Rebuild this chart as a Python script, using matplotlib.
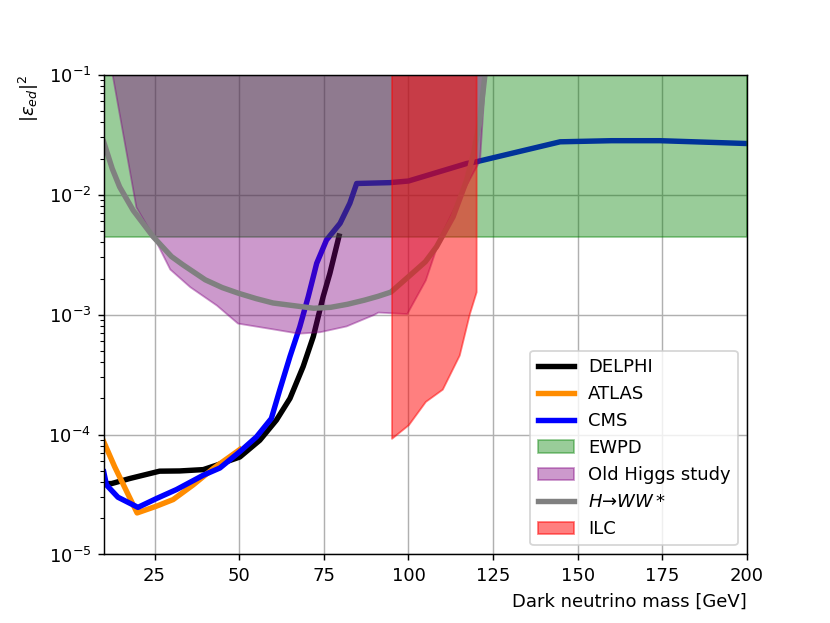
import matplotlib.pyplot as plt
import numpy as np

# DELPHI limit
delphi_m = [10, 12.3, 17.7, 26.5, 32.4, 39.4, 43.3, 50.2, 56.1, 61, 65, 68.9, 71.9, 74.8, 76.8, 79.5]
delphi_eps = [3.9e-5, 3.9e-5, 4.3e-5, 4.95e-5, 4.97e-5, 5.1e-5, 5.55e-5, 6.5e-5, 8.97e-5, 1.32e-4,
              2.0e-4, 3.69e-4, 6.56e-4, 1.41e-3, 2.21e-3, 4.52e-3]

# ATLAS limit
atlas_m = [10, 13.25, 19.85, 25.6, 30.5, 36.4, 42.3, 50.2]
atlas_eps = [8.7e-5, 5.37e-5, 2.22e-5, 2.53e-5, 2.87e-5, 3.8e-5, 5.2e-5, 7.5e-5]

# CMS limit
cms_m = [10, 10.8, 14.2, 20.1, 25.6, 31.5, 39.4, 44.3, 50.2, 55.1, 59.5, 62, 65, 67.9, 70.4, 71.9, 72.9,
         75.8, 79.8, 82.7, 84.7, 94.5, 100, 117.2, 120, 144.8, 160, 174.3, 200]
cms_eps = [4.88e-5, 3.8e-5, 3.0e-5, 2.47e-5, 2.93e-5, 3.48e-5, 4.58e-5, 5.26e-5, 7.2e-5, 9.55e-5, 1.36e-4,
           2.36e-4, 4.47e-4, 7.9e-4, 1.41e-3, 2.07e-3, 2.68e-3, 4.19e-3, 5.77e-3, 8.5e-3, 1.24e-2, 1.26e-2,
           1.3e-2, 1.82e-2, 1.88e-2, 2.76e-2, 2.82e-2, 2.82e-2, 2.67e-2]

# EWPD bound
ewpd_m = [10, 200]
ewpd_eps = [4.45e-3, 4.45e-3]

# old Higgs study
old_m = [12, 19.5, 25, 29.5, 35.4, 43.3, 49.5, 60, 67.5, 73.8, 81.6, 89.6, 91, 99.5, 105, 109.3, 115, 121, 122.6]
old_eps = [0.12, 7.9e-3, 4.3e-3, 2.4e-3, 1.71e-3, 1.2e-3, 8.5e-4, 7.6e-4, 7.0e-4, 7.2e-4, 8.05e-4, 1.0e-3,
           1.05e-3, 1.02e-3, 1.95e-3, 4.47e-3, 9.5e-3, 1.94e-2, 0.1]

# H -> WW* projection
hww_m = [10, 12.5, 14.7, 18.7, 24.6, 30, 33.4, 40, 45, 49.7, 55, 60, 67.9, 72, 77, 82, 87, 91, 94.8, 100,
         105, 108.3, 113.2, 117.2, 119.2, 121, 122.6]
hww_eps = [2.75e-2, 1.65e-2, 1.16e-2, 7.4e-3, 4.46e-3, 3.05e-3, 2.6e-3, 1.95e-3, 1.68e-3, 1.51e-3, 1.36e-3,
           1.25e-3, 1.17e-3, 1.13e-3, 1.15e-3, 1.22e-3, 1.32e-3, 1.42e-3, 1.54e-3, 2.07e-3, 2.76e-3,
           3.68e-3, 6.55e-3, 1.32e-2, 2.2e-2, 4.0e-2, 0.1]

# ILC projection
ilc_m = [95, 100, 105, 110, 115, 118, 120]
ilc_eps = [9.3e-5, 1.21e-4, 1.89e-4, 2.39e-4, 4.6e-4, 1.02e-3, 1.55e-3]

fig, ax = plt.subplots(figsize=(830 / 130, 623 / 130), dpi=130)

ax.plot(delphi_m, delphi_eps, color='black', lw=3, label='DELPHI')
ax.plot(atlas_m, atlas_eps, color='darkorange', lw=3, label='ATLAS')
ax.plot(cms_m, cms_eps, color='blue', lw=3, label='CMS')
ax.fill_between(ewpd_m, ewpd_eps, 1, color='green', alpha=0.4, zorder=2, label='EWPD')
ax.fill_between(old_m, old_eps, 1, color='purple', alpha=0.4, zorder=2, label='Old Higgs study')
ax.plot(hww_m, hww_eps, color='gray', lw=3, label='$H$\u2192$WW*$')
ax.fill_between(ilc_m, ilc_eps, 1, color='red', alpha=0.5, zorder=2, label='ILC')

ax.set_yscale('log')
ax.set_xlim(10, 200)
ax.set_ylim(1e-5, 1e-1)
ax.grid()
ax.set_xlabel('Dark neutrino mass [GeV]', loc='right')
ax.set_ylabel(r'$|\varepsilon_{ed}|^2$', loc='top')
ax.legend(loc='lower right')

plt.savefig('out.png')
